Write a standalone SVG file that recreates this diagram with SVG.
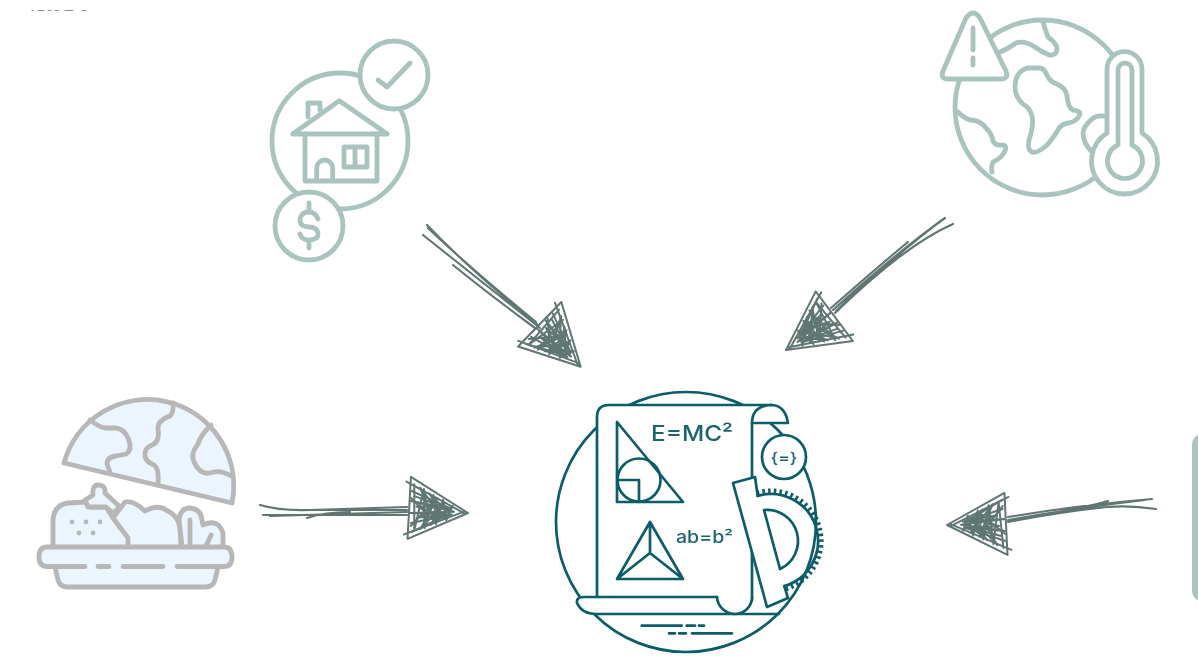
<svg xmlns="http://www.w3.org/2000/svg" width="1198" height="665" viewBox="0 0 1198 665">
<style>
.sage{fill:none;stroke:#a9c4bf;stroke-width:4.800;stroke-linecap:round;stroke-linejoin:round}
.sagew{fill:#fff;stroke:#a9c4bf;stroke-width:4.800;stroke-linecap:round;stroke-linejoin:round}
.grey{fill:none;stroke:#b7b7b7;stroke-width:4.800;stroke-linecap:round;stroke-linejoin:round}
.greyf{fill:#eaf5ff;stroke:#b7b7b7;stroke-width:4.800;stroke-linecap:round;stroke-linejoin:round}
.pale{fill:#eaf5ff;stroke:none}
.teal{fill:none;stroke:#0f5c6b;stroke-width:2.700;stroke-linecap:round;stroke-linejoin:round}
.tealw{fill:#fff;stroke:#0f5c6b;stroke-width:2.700;stroke-linecap:round;stroke-linejoin:round}
.label{fill:#1b6470;font-family:Inter,"DejaVu Sans",sans-serif;font-weight:500}
.shaft{fill:none;stroke:#5f7672;stroke-width:2.200;stroke-linecap:round;stroke-linejoin:round}
.soft{filter:url(#soft)}
</style>
<defs>
<filter id="soft" x="-5%" y="-5%" width="110%" height="110%"><feGaussianBlur stdDeviation="0.45"/></filter>
<g id="head" fill="none" stroke="#5f7672" stroke-width="2" stroke-linecap="round" stroke-linejoin="round">
<path d="M0,0 L-60,-31 L-58,31 Z M-3,1 L-64,-26 M-4,-1 L-62,27"/>
<path d="M-56,-24 L-52,22 L-46,-20 L-42,19 L-36,-15 L-31,14 L-26,-11 L-21,9 L-16,-6"/>
<path d="M-58,-17 L-18,-3 L-58,-7 L-14,0 L-58,5 L-16,3 L-56,15 L-20,4 L-55,24 L-26,7"/>
<path d="M-58,-10 L-32,12 L-50,-21 L-24,7 L-40,-16 L-18,3 M-56,18 L-32,-12 L-46,20 L-24,-8 L-36,15 L-18,-4"/>
<path d="M-54,-12 L-26,-4 L-52,-2 L-26,5 L-50,9 L-32,1"/>
</g>
</defs>
<rect width="1198" height="665" fill="#fff"/>

<g id="top-specks" fill="none" stroke="#8f8f8f" stroke-width="1.200" stroke-linecap="round">
<path d="M32,10.500 H33 M38,10.500 H44 M48,10.500 H51 M55,10.500 H58 M65,10.500 H73 M82,10.500 H86"/>
</g>

<g id="housing" class="soft">
<circle class="sagew" cx="340" cy="141" r="68"/>
<circle class="sagew" cx="394" cy="75" r="34"/>
<circle class="sagew" cx="309" cy="226" r="34"/>
<path class="sage" d="M378,80 L387,87 L410,63"/>
<path class="sage" d="M309,203 V212 M309,240 V248 M318,219 C316,214 313,212 309,212 C303,212 300,216 300,220 C300,225 304,227 309,227 C314,227 318,229 318,234 C318,238 315,240 309,240 C304,240 301,238 300,234"/>
<path class="sage" d="M292.700,134 L339.300,100.700 L387.300,134 Z"/>
<path class="sage" d="M308,117 V103 H320 V110"/>
<path class="sage" d="M305,134 V181 H377 V134"/>
<path class="sage" d="M316.700,181 V168 A8,8 0 0 1 332.700,168 V181"/>
<path class="sage" d="M344,147 H367 V167 H344 Z M355,147 V167"/>
</g>

<g id="climate" class="soft">
<circle class="sagew" cx="1042.500" cy="107.500" r="87.500"/>
<path class="sage" d="M1043,22 Q1046,32 1048,37 Q1057,44 1057,48 Q1057,56 1049,55 Q1042,52 1035,47 Q1024,40 1016,43 Q1008,49 998,53"/>
<path class="sage" d="M1027,68 L1040,68 Q1044,68 1047,75 Q1050,82 1057,84 Q1066,88 1067,96 Q1068,108 1073,110 Q1080,111 1080,114 Q1077,122 1068,123 Q1061,124 1058,130 Q1052,140 1046,146 Q1036,154 1032,152 Q1027,150 1029,140 Q1034,125 1032,116 Q1030,108 1023,104 Q1015,97 1015,87 Q1015,72 1027,68 Z"/>
<path class="sage" d="M958,112 Q964,118 970,120 Q980,120 986,128 Q992,134 993,141 Q995,146 1003,145 Q1008,146 1004,153 Q1000,159 993,162 Q991,166 992,172"/>
<path class="sage" d="M1107,117 Q1098,114 1092,119 Q1083,127 1083,133 Q1083,143 1092,152"/>
<path class="sagew" d="M966,18 Q973,8 980,18 L1006,71 Q1009,79 1001,79 H948 Q940,79 943,71 Z"/>
<path class="sage" d="M973,28 V50 M973,58 V65"/>
<path class="sagew" d="M1107,133 V69 A17.500,17.500 0 0 1 1142,69 V133 A33,33 0 1 1 1107,133 Z"/>
<path class="sage" d="M1118,145 V70 A7,7 0 0 1 1132,70 V145 A17.500,17.500 0 1 1 1118,145 Z"/>
</g>

<g id="food" class="soft">
<path class="greyf" d="M64,463 A86.400,86.400 0 0 1 232,503 Z"/>
<path class="grey" d="M90,420 Q100,428 106,428 L116,428 Q124,429 128,438 Q133,450 126,454 L116,456 Q107,457 107,464 L110,472"/>
<path class="grey" d="M173,403 Q174,412 170,416 Q158,420 158,428 Q160,442 152,445 Q144,448 145,456 Q146,462 154,465 Q159,468 158,483"/>
<path class="grey" d="M211,425 Q200,436 198,444 Q190,454 194,462 Q200,475 210,473 Q220,469 233,477"/>
<path class="pale" d="M53,547 V520 Q54,505 68,503 L90,502 L115,518 L128,547 Z"/>
<path class="grey" d="M53,546 V520 Q54,505 68,503 L86,502"/>
<path class="grey" d="M92,507 H106 L113,518"/>
<path class="greyf" d="M128,546 V538 L113,518 L125,502 Q133,500 145,511 Q158,504 166,510 Q178,515 180,528 L181,546"/>
<path class="greyf" d="M85,500 L93,495 Q92,485 98,485 Q106,485 105,493 L120,507 L113,513 L106,507 L92,507 L88,507 Z"/>
<path class="greyf" d="M182,546 L179,520 Q180,508 190,508 Q201,509 202,520 L203,525 Q218,518 223,533 L223,546"/>
<path class="grey" d="M190,520 V546 M211,535 L206,546"/>
<g fill="#b7b7b7"><circle cx="72" cy="522" r="2.400"/><circle cx="86" cy="522" r="2.400"/><circle cx="100" cy="522" r="2.400"/><circle cx="79" cy="533" r="2.400"/><circle cx="93" cy="533" r="2.400"/></g>
<path class="greyf" d="M55,567 L58,580 Q60,587 68,587 H205 Q213,587 215,580 L218,567"/>
<rect class="pale" x="39" y="547" width="193" height="20" rx="8"/>
<path class="grey" d="M85,566.500 H47 Q39,566.500 39,557 Q39,547 47,547 H224 Q232,547 232,557 Q232,566.500 224,566.500 H177 M98,566.500 H109 M123,566.500 H163"/>
</g>

<g id="science" class="soft">
<circle class="tealw" cx="686" cy="522" r="130"/>
<path fill="#fff" d="M597,597 V417 Q597,405 609,405 H770 Q755,405 752,423 V600 L735,614 L717,597 Z"/>
<path class="teal" d="M597,597 V417 Q597,405 609,405 H772"/>
<path class="tealw" d="M771,405 Q752,406 752,423 H788 Q785,405 771,405 Z"/>
<path class="teal" d="M752,423 V600"/>
<path class="tealw" d="M717,597 H584 Q576,597 577,603 Q582,614 596,614 H779"/>
<path class="tealw" d="M717,597 A18,18 0 0 0 735,614 A17,17 0 0 0 752,597"/>
<circle class="tealw" cx="784" cy="457" r="22"/>
<path fill="#fff" d="M733,483 L755,477 L757,493 A52,52 0 0 1 785,589 L788,598 L767,607 Z"/>
<path fill="none" stroke="#0f5c6b" stroke-width="5" stroke-dasharray="2.500 3.200" d="M756.900,493 A50,50 0 0 1 785.200,589"/>
<path class="teal" d="M757.700,495.900 A47,47 0 0 1 784.300,586.100"/>
<path class="teal" d="M757.700,495.900 L755,477 L733,483 L767,607 L788,598 L784.300,586.100"/>
<path class="teal" d="M764,510 A31,31 0 0 1 780,569 Z"/>
<path class="teal" d="M617,422 V502 H683 Z"/>
<circle class="teal" cx="639" cy="480" r="21.500"/>
<path class="teal" d="M617,480 H639 V502"/>
<path class="teal" d="M650,522 L617,579 H683 Z M650,522 V553 M617,579 L650,553 L683,579"/>
<path class="teal" d="M641.700,625.700 H681.700 M686.700,625.700 H695 M699,625.700 H704 M669,633.300 H675 M679,633.300 H686 M692,633.300 H732"/>
<text class="label" x="651" y="441" font-size="22" textLength="82" lengthAdjust="spacingAndGlyphs">E=MC²</text>
<text class="label" x="676" y="542.500" font-size="17" textLength="57" lengthAdjust="spacingAndGlyphs">ab=b²</text>
<text class="label" x="784" y="462.500" font-size="15" text-anchor="middle" textLength="27" lengthAdjust="spacingAndGlyphs">{=}</text>
</g>

<g id="side-tab"><rect x="1192" y="434" width="24" height="167" rx="10" fill="#a9c4bf"/></g>

<g id="connectors" class="soft">
<g id="arrow-housing">
<path class="shaft" d="M427,225 Q470,270 538,325 M423,235 Q480,280 540,328 M453,265 Q490,295 535,328 M428,228 Q470,268 536,322"/>
<use href="#head" transform="translate(580.700,366.700) rotate(46)"/>
</g>
<g id="arrow-climate">
<path class="shaft" d="M945,218 Q900,250 833,310 M953,224 Q905,245 835,313 M908,242 Q880,265 831,308 M942,220 Q895,255 836,311"/>
<use href="#head" transform="translate(786,350) rotate(145)"/>
</g>
<g id="arrow-food">
<path class="shaft" d="M260,505 Q280,511 310,510 L407,507 M263,515 L407,515 M307,518 Q325,512 350,512 M270,516 L407,512 M300,510 L407,510"/>
<use href="#head" transform="translate(468,513) rotate(5)"/>
</g>
<g id="arrow-right">
<path class="shaft" d="M1152,499 Q1080,505 1008,517 M1156,509 Q1130,505 1107,507 Q1060,512 1008,522 M1108,501 Q1095,505 1083,507 M1145,500 Q1075,508 1008,520"/>
<use href="#head" transform="translate(947,525) rotate(179)"/>
</g>
</g>
</svg>
